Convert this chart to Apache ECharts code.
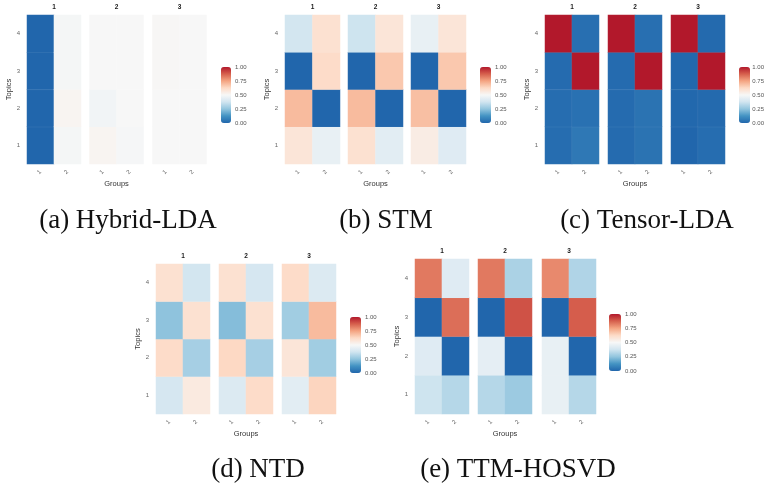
<!DOCTYPE html>
<html><head><meta charset="utf-8">
<script src="https://cdn.jsdelivr.net/npm/echarts@6/dist/echarts.min.js"></script>
<style>html,body{margin:0;padding:0;background:#fff}#c{width:767px;height:491px}</style>
</head><body><div id="c"></div>
<script>
// ---- data ----
const groups = ['1', '2'];
const topics = ['1', '2', '3', '4'];
const facets = ['1', '2', '3'];
const colorTicks = [0, 0.25, 0.5, 0.75, 1];
const captions = ['(a) Hybrid-LDA', '(b) STM', '(c) Tensor-LDA', '(d) NTD', '(e) TTM-HOSVD'];
// each: facet -> group -> values for topics 1..4
const hybridLDA = [
  [[0, 0, 0, 0], [0.49, 0.515, 0.49, 0.49]],
  [[0.515, 0.48, 0.5, 0.5], [0.495, 0.5, 0.5, 0.5]],
  [[0.5, 0.5, 0.505, 0.505], [0.5, 0.5, 0.5, 0.5]]
];
const stm = [
  [[0.58, 0.7, 0, 0.38], [0.45, 0, 0.62, 0.6]],
  [[0.6, 0.7, 0, 0.37], [0.43, 0, 0.67, 0.58]],
  [[0.55, 0.69, 0, 0.45], [0.42, 0, 0.67, 0.58]]
];
const tensorLDA = [
  [[0.02, 0.02, 0.015, 1], [0.05, 0.03, 1, 0.025]],
  [[0.015, 0.015, 0.015, 1], [0.035, 0.035, 1, 0.025]],
  [[0.0, 0.005, 0.005, 1], [0.02, 0.01, 1, 0.01]]
];
const ntd = [
  [[0.39, 0.62, 0.245, 0.6], [0.56, 0.29, 0.6, 0.38]],
  [[0.41, 0.63, 0.23, 0.6], [0.62, 0.29, 0.6, 0.39]],
  [[0.43, 0.58, 0.28, 0.62], [0.64, 0.28, 0.7, 0.41]]
];
const ttmHosvd = [
  [[0.37, 0.42, 0, 0.83], [0.32, 0, 0.85, 0.42]],
  [[0.32, 0.44, 0, 0.83], [0.27, 0, 0.9, 0.3]],
  [[0.45, 0.45, 0, 0.8], [0.32, 0, 0.88, 0.31]]
];
const panelData = [hybridLDA, stm, tensorLDA, ntd, ttmHosvd];

// ---- layout & style ----
const palette = ['#2166AC', '#4393C3', '#92C5DE', '#D1E5F0', '#F7F7F7', '#FDDBC7', '#F4A582', '#D6604D', '#B2182B'];
const layout = [
  { lefts: [27, 89.5, 152.5], w: 54, top: 15, h: 149, cb: [221, 67, 10, 56], cap: [128, 220.5] },
  { lefts: [285, 348, 411], w: 55, top: 15, h: 149, cb: [480, 67, 11, 56], cap: [386, 220.5] },
  { lefts: [545, 608, 671], w: 54, top: 15, h: 149, cb: [739, 67, 11, 56], cap: [647, 220.5] },
  { lefts: [156, 219, 282], w: 54, top: 264, h: 150, cb: [350, 317, 11, 56], cap: [258, 469.5] },
  { lefts: [415, 478, 542], w: 54, top: 259, h: 155, cb: [609, 314, 12, 57], cap: [518, 469.5] }
];
const FONT = '"Liberation Sans", Arial, sans-serif';

const grid = [], xAxis = [], yAxis = [], series = [], visualMap = [], graphic = [];

panelData.forEach((vals, p) => {
  const L = layout[p];
  const sIdx = [];
  facets.forEach((fname, f) => {
    const gi = grid.length;
    grid.push({ left: L.lefts[f], top: L.top, width: L.w, height: L.h });
    xAxis.push({
      type: 'category', gridIndex: gi, data: groups,
      axisLine: { show: false }, axisTick: { show: false }, splitLine: { show: false },
      axisLabel: { rotate: 45, fontSize: 6, color: '#666', margin: 7, fontFamily: FONT },
      name: f === 1 ? 'Groups' : '', nameLocation: 'middle', nameGap: 16,
      nameTextStyle: { fontSize: 7.5, color: '#333', fontFamily: FONT }
    });
    yAxis.push({
      type: 'category', gridIndex: gi, data: topics,
      axisLine: { show: false }, axisTick: { show: false }, splitLine: { show: false },
      axisLabel: { show: f === 0, fontSize: 6, color: '#666', margin: 7, fontFamily: FONT },
      name: f === 0 ? 'Topics' : '', nameLocation: 'middle', nameGap: 9, nameRotate: 90,
      nameTextStyle: { fontSize: 7.5, color: '#333', fontFamily: FONT }
    });
    const data = [];
    groups.forEach((g, gx) => topics.forEach((t, ty) => data.push([gx, ty, vals[f][gx][ty]])));
    sIdx.push(series.length);
    series.push({
      type: 'heatmap', xAxisIndex: gi, yAxisIndex: gi, data: data,
      itemStyle: { borderColor: 'rgba(255,255,255,0.12)', borderWidth: 0.5 },
      emphasis: { disabled: true }, animation: false
    });
    graphic.push({
      type: 'text', x: L.lefts[f] + L.w / 2, y: L.top - 8,
      style: { text: fname, fontSize: 6.5, fontWeight: 'bold', fill: '#1a1a1a', fontFamily: FONT, align: 'center', verticalAlign: 'middle' }
    });
  });
  const cb = L.cb;
  visualMap.push({
    type: 'continuous', min: 0, max: 1, seriesIndex: sIdx, inRange: { color: palette },
    left: cb[0], top: cb[1], itemWidth: cb[2], itemHeight: cb[3], orient: 'vertical',
    calculable: false, text: null, padding: 0, hoverLink: false, showLabel: false
  });
  const gi = grid.length;
  grid.push({ left: cb[0], top: cb[1], width: cb[2], height: cb[3] });
  xAxis.push({ type: 'value', gridIndex: gi, show: false, min: 0, max: 1 });
  yAxis.push({
    type: 'value', gridIndex: gi, min: 0, max: 1, position: 'right',
    axisLine: { show: false }, splitLine: { show: false },
    axisTick: { show: true, inside: true, length: 2, customValues: colorTicks, lineStyle: { color: '#fff', width: 0.8 } },
    axisLabel: { customValues: colorTicks, formatter: v => v.toFixed(2), fontSize: 6, color: '#555', margin: 4, fontFamily: FONT },
    z: 10
  });
  graphic.push({
    type: 'text', x: L.cap[0], y: L.cap[1],
    style: { text: captions[p], fontSize: 27, fontFamily: '"Liberation Serif", "Times New Roman", serif', fill: '#111', align: 'center', verticalAlign: 'middle' }
  });
});

const chart = echarts.init(document.getElementById('c'), null, { renderer: 'canvas' });
chart.setOption({
  animation: false, backgroundColor: '#fff',
  grid, xAxis, yAxis, series, visualMap, graphic
});
</script></body></html>
